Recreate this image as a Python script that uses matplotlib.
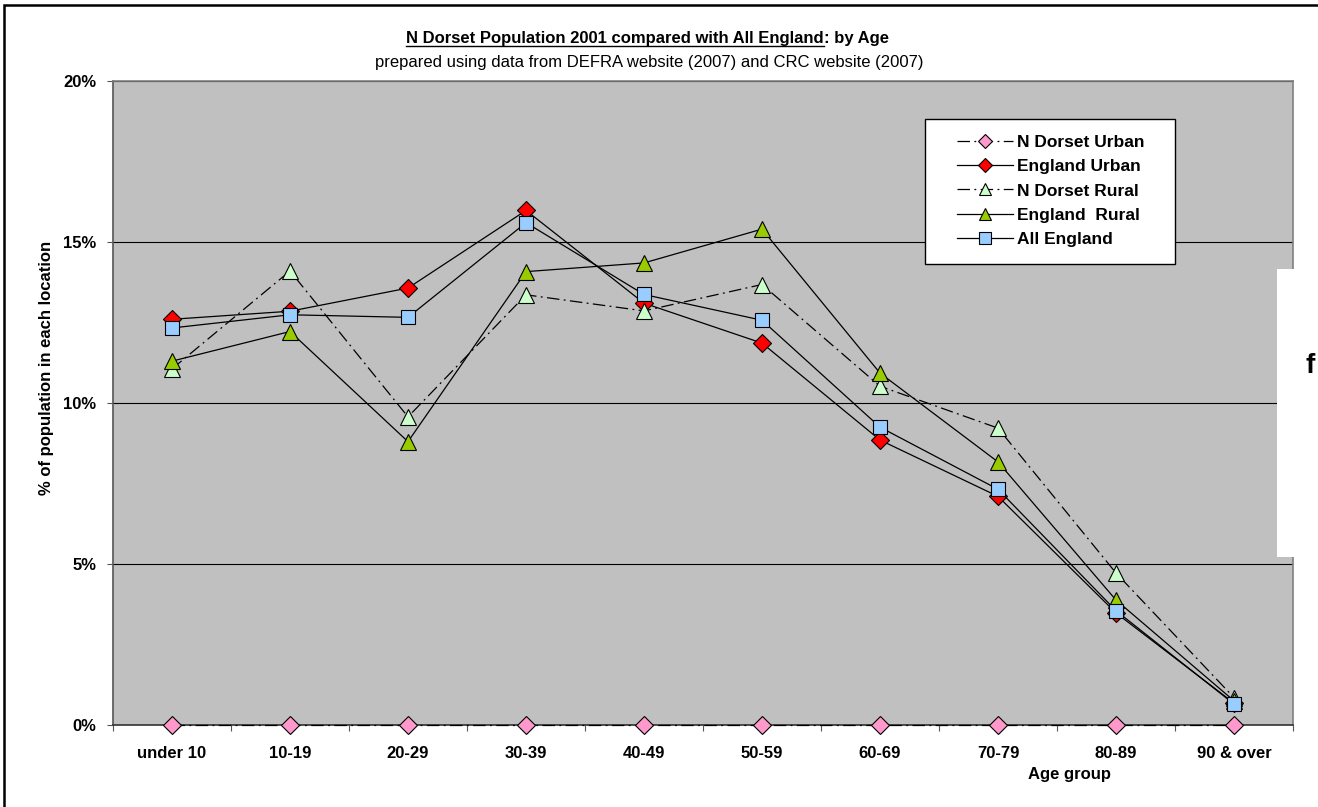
import matplotlib
matplotlib.use('Agg')
import matplotlib.pyplot as plt
from matplotlib.patches import Rectangle
from matplotlib.lines import Line2D
from matplotlib.ticker import FixedLocator, FuncFormatter

plt.rcParams['font.family'] = ['Liberation Sans', 'DejaVu Sans']

# Share of population (%) in each age band
age_groups = ['under 10', '10-19', '20-29', '30-39', '40-49',
              '50-59', '60-69', '70-79', '80-89', '90 & over']
n_dorset_urban = [0, 0, 0, 0, 0, 0, 0, 0, 0, 0]
england_urban = [12.6, 12.85, 13.57, 15.98, 13.1, 11.86, 8.85, 7.1, 3.48, 0.68]
n_dorset_rural = [11.06, 14.1, 9.57, 13.36, 12.86, 13.68, 10.52, 9.22, 4.72, 0.85]
england_rural = [11.3, 12.22, 8.8, 14.08, 14.35, 15.4, 10.93, 8.17, 3.88, 0.75]
all_england = [12.33, 12.74, 12.66, 15.6, 13.37, 12.57, 9.25, 7.32, 3.55, 0.65]

W, H = 1318, 807
fig = plt.figure(figsize=(W / 100, H / 100), dpi=100)
AX_L, AX_T, AX_W, AX_H = 113, 81, 1180, 644
ax = fig.add_axes([AX_L / W, 1 - (AX_T + AX_H) / H, AX_W / W, AX_H / H])
ax.set_facecolor('#C0C0C0')


def ax_frac(px, py):
    # pixel position (from top-left of the figure) -> axes fraction
    return (px - AX_L) / AX_W, (AX_T + AX_H - py) / AX_H


x = list(range(len(age_groups)))
dashdot = (10, 3.5, 1.5, 3.5)

ax.plot(x, n_dorset_urban, color='black', lw=0.9, dashes=dashdot,
        marker='D', ms=9, mfc='#FF99CC', mec='black', mew=0.8,
        label='N Dorset Urban', zorder=5, clip_on=False)
ax.plot(x, england_urban, color='black', lw=0.9,
        marker='D', ms=9, mfc='#FF0000', mec='black', mew=0.8,
        label='England Urban', zorder=4)
ax.plot(x, n_dorset_rural, color='black', lw=0.9, dashes=dashdot,
        marker='^', ms=11, mfc='#CCFFCC', mec='black', mew=0.8,
        label='N Dorset Rural', zorder=4)
ax.plot(x, england_rural, color='black', lw=0.9,
        marker='^', ms=11, mfc='#99CC00', mec='black', mew=0.8,
        label='England  Rural', zorder=4)
ax.plot(x, all_england, color='black', lw=0.9,
        marker='s', ms=10, mfc='#99CCFF', mec='black', mew=0.8,
        label='All England', zorder=4)

ax.set_xlim(-0.5, len(age_groups) - 0.5)
ax.set_ylim(0, 20)

# y axis: percent labels, black gridlines
ax.yaxis.set_major_locator(FixedLocator([0, 5, 10, 15, 20]))
ax.yaxis.set_major_formatter(FuncFormatter(lambda v, p: f'{v:.0f}%'))
ax.grid(axis='y', color='black', lw=0.8)
ax.set_axisbelow(True)
ax.tick_params(axis='y', direction='out', length=4, width=0.8,
               color='#555555', pad=8, labelsize=12)

# x axis: labels at categories, tick marks between them
ax.set_xticks(x)
ax.set_xticklabels(age_groups)
ax.set_xticks([i - 0.5 for i in range(len(age_groups) + 1)], minor=True)
ax.tick_params(axis='x', which='major', length=0, pad=15, labelsize=12)
ax.tick_params(axis='x', which='minor', direction='out', length=4,
               width=0.8, color='#555555')
for lab in ax.get_xticklabels() + ax.get_yticklabels():
    lab.set_fontweight('bold')

ax.spines['left'].set_color('#555555')
ax.spines['bottom'].set_color('#333333')
ax.spines['top'].set_color('#808080')
ax.spines['right'].set_color('#808080')
for s in ax.spines.values():
    s.set_linewidth(1.2)

# legend box drawn separately so its padding can be set freely
bx0, by0 = ax_frac(925, 264)
bx1, by1 = ax_frac(1175, 119)
ax.add_patch(Rectangle((bx0, by0), bx1 - bx0, by1 - by0, transform=ax.transAxes,
                       facecolor='white', edgecolor='black', lw=1.0, zorder=9))
leg = ax.legend(loc='upper left', bbox_to_anchor=ax_frac(957, 135),
                prop={'weight': 'bold', 'size': 12.5}, frameon=False,
                handlelength=3.2, handletextpad=0.25, borderpad=0,
                labelspacing=0.52, borderaxespad=0, numpoints=1)
leg.set_zorder(10)
for h in leg.legend_handles:
    h.set_markersize(h.get_markersize() * 0.8)

fig.text(46 / W, 1 - 495 / H, '% of population in each location', rotation=90,
         ha='center', va='bottom', fontsize=12, fontweight='bold')
fig.text(1070 / W, 1 - 774 / H, 'Age group', ha='center', va='center',
         fontsize=12, fontweight='bold')

# title: underlined main part followed by ": by Age"
t1 = fig.text(406 / W, 1 - 39 / H, 'N Dorset Population 2001 compared with All England',
              ha='left', va='center', fontsize=12, fontweight='bold')
fig.text(649 / W, 1 - 63 / H,
         'prepared using data from DEFRA website (2007) and CRC website (2007)',
         ha='center', va='center', fontsize=12)
fig.canvas.draw()
bb = t1.get_window_extent()
fig.text(bb.x1 / W, 1 - 39 / H, ': by Age', ha='left', va='center',
         fontsize=12, fontweight='bold')
fig.add_artist(Line2D([bb.x0 / W, bb.x1 / W], [(bb.y0 + 1) / H] * 2,
                      color='black', lw=1.0))

# chart border
fig.add_artist(Rectangle((4 / W, -0.1), 1.2, 1 - 5 / H + 0.1, fill=False,
                         edgecolor='black', lw=1.8))

# white panel overlapping the right side
fig.add_artist(Rectangle((1277 / W, 1 - 557 / H), 0.1, 288 / H,
                         facecolor='white', edgecolor='none', zorder=20))
fig.text(1306 / W, 1 - 373 / H, 'f', ha='left', va='baseline', fontsize=20,
         fontweight='bold', zorder=21)

fig.savefig('out.png', dpi=100)
